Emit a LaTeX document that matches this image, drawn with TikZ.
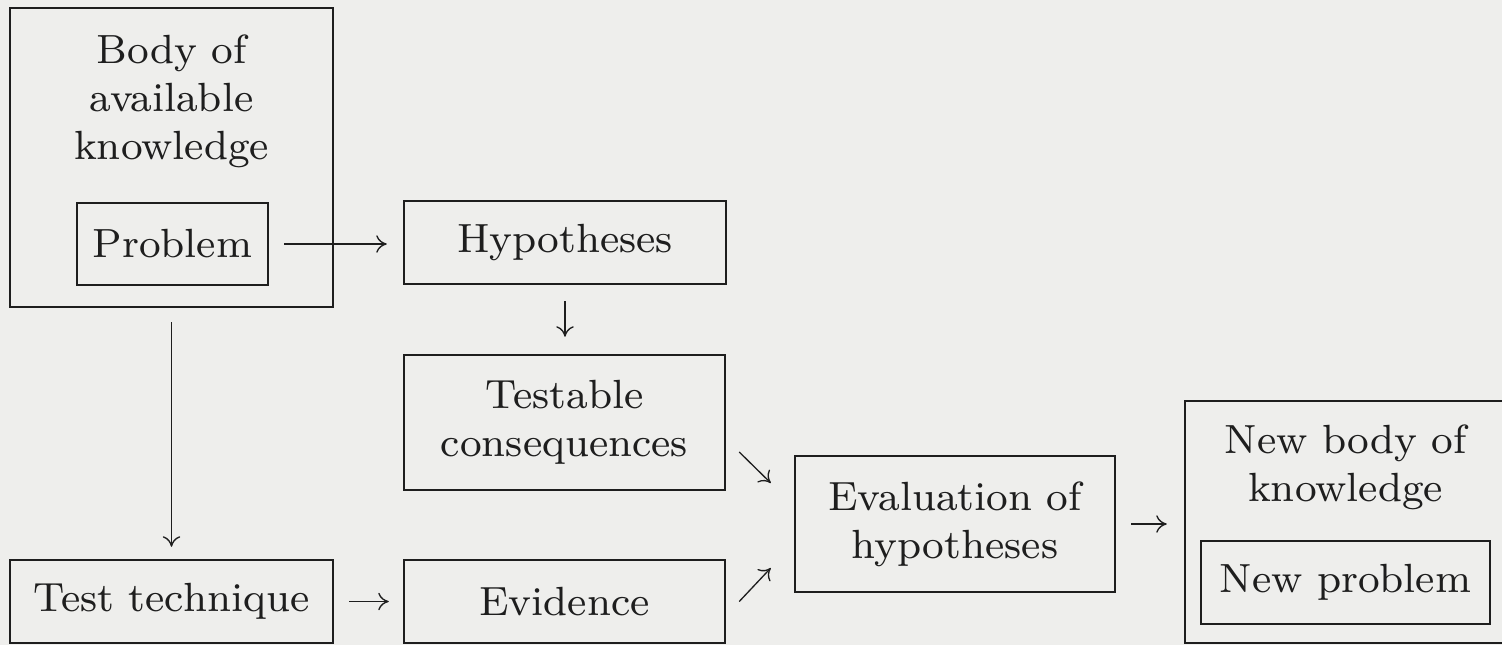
\documentclass[tikz,border=0pt]{standalone}
\usepackage{fontspec}
\setmainfont{lmroman8-regular}[Extension=.otf]
\usetikzlibrary{arrows.meta,calc,positioning}
\definecolor{kertas}{RGB}{238,238,236}
\definecolor{tinta}{RGB}{30,30,30}
\tikzset{
	kotak/.style={draw=tinta, line width=1.4pt, rectangle, inner sep=0pt},
	teks/.style={text=tinta, align=center, font=\fontsize{23.2}{27.3}\selectfont},
	panah/.style={draw=tinta, line width=0.75pt, -{To[length=6pt,width=10pt]}}
}

\begin{document}
\begin{tikzpicture}

% latar
\fill[kertas] (0,0) rectangle (30.04,-12.9);
\useasboundingbox (0,0) rectangle (30.04,-12.9);
\clip (0,0) rectangle (30.04,-12.9);

% kotak-kotak kiri
\node[kotak, minimum width=6.46cm, minimum height=5.98cm] (body) at (3.43,-3.15) {};
\node[teks] (bodytext) at (3.43,-2.02) {Body of\\available\\knowledge};
\node[kotak, teks, minimum width=3.82cm, minimum height=1.64cm] (problem) at (3.45,-4.88) {Problem};
\node[kotak, teks, minimum width=6.46cm, minimum height=1.66cm] (technique) at (3.43,-12.03) {Test technique};

% kotak-kotak tengah
\node[kotak, teks, minimum width=6.44cm, minimum height=1.66cm] (hyp) at (11.30,-4.85) {Hypotheses};
\node[kotak, teks, minimum width=6.42cm, minimum height=2.70cm] (testable) at (11.29,-8.45) {Testable\\consequences};
\node[kotak, teks, minimum width=6.42cm, minimum height=1.66cm] (evidence) at (11.29,-12.03) {Evidence};

% kotak-kotak kanan
\node[kotak, teks, minimum width=6.40cm, minimum height=2.72cm] (eval) at (19.10,-10.48) {Evaluation of\\hypotheses};
\node[kotak, minimum width=6.6cm, minimum height=4.84cm] (newbody) at (27.0,-10.44) {};
\node[teks] (newbodytext) at (26.91,-9.34) {New body of\\knowledge};
\node[kotak, teks, minimum width=5.78cm, minimum height=1.66cm] (newproblem) at (26.91,-11.65) {New problem};

% panah
\draw[panah, shorten <=0.3cm, shorten >=0.32cm] (problem.east) -- (problem.east -| hyp.west);
\draw[panah, shorten <=0.32cm, shorten >=0.34cm] (hyp.south) -- (hyp.south |- testable.north);
\draw[panah, shorten <=0.28cm, shorten >=0.24cm] (body.south) -- (technique.north);
\draw[panah, shorten <=0.3cm, shorten >=0.28cm] (technique.east) -- (technique.east -| evidence.west);
\draw[panah] ([shift={(0.26,-0.59)}]testable.east) -- ([shift={(-0.46,0.82)}]eval.west);
\draw[panah] ([xshift=0.26cm]evidence.east) -- ([shift={(-0.46,-0.88)}]eval.west);
\draw[panah, shorten <=0.3cm, shorten >=0.34cm] (eval.east) -- (eval.east -| newbody.west);

\end{tikzpicture}
\end{document}
